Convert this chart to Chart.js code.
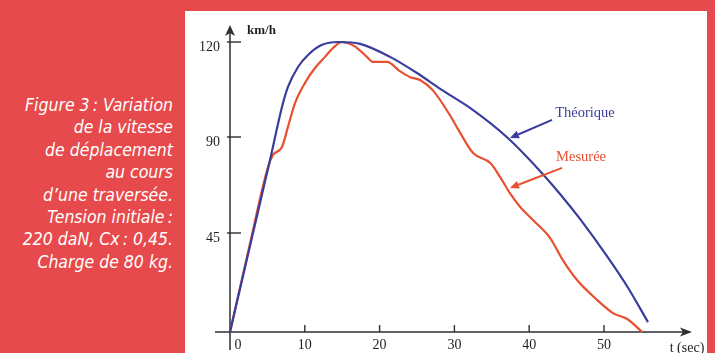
<!DOCTYPE html>
<html>
<head>
<meta charset="utf-8">
<script src="https://cdn.jsdelivr.net/npm/chart.js@4.4.1/dist/chart.umd.min.js"></script>
<style>
  html, body { margin:0; padding:0; }
  body { width:715px; height:353px; overflow:hidden; position:relative; background:#e64a4c; }
  #cap { position:absolute; right:542px; top:94px; width:180px; text-align:right; color:#fff;
         font-family:"Liberation Sans Narrow","DejaVu Sans Condensed","Roboto",sans-serif; font-style:italic;
         font-size:17.5px; line-height:22.4px; white-space:nowrap; }
  #panel { position:absolute; left:185px; top:11px; width:522px; height:342px; background:#fff; }
  canvas { display:block; }
</style>
</head>
<body>
<div id="cap">Figure 3&#8239;: Variation<br>de la vitesse<br>de déplacement<br>au cours<br>d’une traversée.<br>Tension initiale&#8239;:<br>220 daN, Cx&#8239;: 0,45.<br>Charge de 80 kg.</div>
<div id="panel"><canvas id="c" width="522" height="342"></canvas></div>
<script>
// ---- data (t in seconds, speed in km/h) ----
const theoTime  = [0, 2.67, 5.35, 6.95, 7.75, 9.09, 10.43, 12.3, 14.5, 17.4, 21.4, 25.0, 28.1, 32.5, 37.0, 41.44, 44.12, 46.79, 50.4, 53.07, 55.88];
const theoSpeed = [0, 39.1, 79.2, 99.5, 105.8, 112.1, 115.9, 119.1, 120, 119.4, 115.3, 110.2, 105.2, 98.5, 90, 74.1, 63.3, 51.6, 34.5, 20.9, 4.5];
const measTime  = [0, 2.54, 5.08, 5.75, 6.95, 7.75, 8.69, 10.03, 11.36, 12.7, 13.77, 14.97, 16.3, 17.0, 18.3, 19.1, 21.0, 22.7, 24.1, 25.4, 27.1, 29.4, 30.7, 32.5, 34.8, 36.1, 37.4, 38.8, 40.5, 42.8, 44.5, 46.4, 49.1, 51.2, 53.1, 55.1];
const measSpeed = [0, 38.2, 75.9, 81.6, 85.3, 93.2, 100.7, 107.1, 111.8, 115.3, 118.1, 120, 119.1, 118.1, 115.3, 113.7, 113.7, 110.8, 108.9, 108, 104.8, 96.9, 91.6, 82.5, 77.8, 71.3, 63.8, 57.2, 51.1, 42.7, 32.7, 23.6, 14.5, 8.6, 5.9, 0];
const xTicks = [0, 10, 20, 30, 40, 50];
const yTicks = [45, 90, 120];
const seriesNames = ['Théorique', 'Mesurée'];

// ---- y scale whose labelled ticks are evenly spaced as in the original figure ----
class PiecewiseScale extends Chart.LinearScale {
  _frac(v) {
    const b = this.options.breaks;
    if (v <= b[0][0]) return b[0][1];
    for (let i = 1; i < b.length; i++) {
      if (v <= b[i][0]) {
        const [v0, f0] = b[i-1], [v1, f1] = b[i];
        return f0 + (v - v0) / (v1 - v0) * (f1 - f0);
      }
    }
    const [v0, f0] = b[b.length-2], [v1, f1] = b[b.length-1];
    return f0 + (v - v0) / (v1 - v0) * (f1 - f0);
  }
  getPixelForValue(value) {
    if (value === null || value === undefined) return NaN;
    return this.getPixelForDecimal(this._frac(value));
  }
  getValueForPixel(pixel) {
    const d = this.getDecimalForPixel(pixel);
    const b = this.options.breaks;
    for (let i = 1; i < b.length; i++) {
      if (d <= b[i][1]) {
        const [v0, f0] = b[i-1], [v1, f1] = b[i];
        return v0 + (d - f0) / (f1 - f0) * (v1 - v0);
      }
    }
    return b[b.length-1][0];
  }
}
PiecewiseScale.id = 'piecewise';
PiecewiseScale.defaults = Chart.LinearScale.defaults;
Chart.register(PiecewiseScale);

const toPts = (ts, vs) => ts.map((t, i) => ({x: t, y: vs[i]}));

const BLUE = '#3b3d9c', RED = '#e8502f', AXIS = '#2e2e2e';

const axesPlugin = {
  id: 'axesPlugin',
  beforeDatasetsDraw(chart) {
    const ctx = chart.ctx, xs = chart.scales.x, ys = chart.scales.y;
    const x0 = xs.getPixelForValue(0), y0 = ys.getPixelForValue(0);
    ctx.save();
    ctx.strokeStyle = AXIS; ctx.fillStyle = AXIS; ctx.lineWidth = 1.5;
    // y axis
    ctx.beginPath(); ctx.moveTo(x0, 20); ctx.lineTo(x0, 339); ctx.stroke();
    ctx.beginPath(); ctx.moveTo(x0, 14); ctx.lineTo(x0 + 5, 25); ctx.lineTo(x0, 22); ctx.lineTo(x0 - 5, 25); ctx.closePath(); ctx.fill();
    // x axis
    ctx.beginPath(); ctx.moveTo(30, y0); ctx.lineTo(500, y0); ctx.stroke();
    ctx.beginPath(); ctx.moveTo(507, y0); ctx.lineTo(495, y0 - 4.5); ctx.lineTo(498, y0); ctx.lineTo(495, y0 + 4.5); ctx.closePath(); ctx.fill();
    // ticks
    ctx.lineWidth = 1.4;
    xTicks.forEach(t => { if (t === 0) return; const px = xs.getPixelForValue(t);
      ctx.beginPath(); ctx.moveTo(px, y0 - 7); ctx.lineTo(px, y0); ctx.stroke(); });
    yTicks.forEach(v => { const py = ys.getPixelForValue(v);
      ctx.beginPath(); ctx.moveTo(x0 - 3, py); ctx.lineTo(x0 + 11, py); ctx.stroke(); });
    // labels
    ctx.fillStyle = '#1e1e1e';
    ctx.font = '14px "Liberation Serif", "DejaVu Serif", serif';
    ctx.textBaseline = 'middle';
    ctx.textAlign = 'right';
    yTicks.forEach(v => ctx.fillText(String(v), 35, ys.getPixelForValue(v) + 5));
    ctx.textAlign = 'center';
    xTicks.forEach(t => { const px = t === 0 ? x0 + 8 : xs.getPixelForValue(t);
      ctx.fillText(String(t), px, y0 + 13); });
    ctx.fillText('t (sec)', 502, 337);
    ctx.textAlign = 'left';
    ctx.font = 'bold 13px "Liberation Serif", "DejaVu Serif", serif';
    ctx.fillText('km/h', 62, 20);
    ctx.restore();
  },
  afterDatasetsDraw(chart) {
    const ctx = chart.ctx, xs = chart.scales.x, ys = chart.scales.y;
    const P = (t, v) => [xs.getPixelForValue(t), ys.getPixelForValue(v)];
    const arrow = (a, b, col) => {
      ctx.strokeStyle = col; ctx.fillStyle = col; ctx.lineWidth = 2;
      const ang = Math.atan2(b[1] - a[1], b[0] - a[0]);
      const L = 9, W = 4;
      const bx = b[0] - L * Math.cos(ang), by = b[1] - L * Math.sin(ang);
      ctx.beginPath(); ctx.moveTo(a[0], a[1]); ctx.lineTo(bx, by); ctx.stroke();
      ctx.beginPath(); ctx.moveTo(b[0], b[1]);
      ctx.lineTo(bx + W * Math.sin(ang), by - W * Math.cos(ang));
      ctx.lineTo(bx - W * Math.sin(ang), by + W * Math.cos(ang));
      ctx.closePath(); ctx.fill();
    };
    ctx.save();
    ctx.font = '14.5px "Liberation Serif", "DejaVu Serif", serif';
    ctx.textAlign = 'center'; ctx.textBaseline = 'middle';
    ctx.fillStyle = BLUE; let p = P(47.46, 97.6); ctx.fillText(seriesNames[0], p[0], p[1]);
    ctx.fillStyle = RED;  p = P(46.93, 80.6); ctx.fillText(seriesNames[1], p[0], p[1]);
    arrow(P(43.05, 95.4), P(37.43, 89.5), BLUE);
    arrow(P(44.39, 75.5), P(37.43, 66.1), RED);
    ctx.restore();
  }
};

new Chart(document.getElementById('c'), {
  type: 'line',
  data: {
    datasets: [
      { label: seriesNames[0], data: toPts(theoTime, theoSpeed), borderColor: BLUE, borderWidth: 2.2,
        pointRadius: 0, fill: false, cubicInterpolationMode: 'monotone', clip: false },
      { label: seriesNames[1], data: toPts(measTime, measSpeed), borderColor: RED, borderWidth: 2.2,
        pointRadius: 0, fill: false, cubicInterpolationMode: 'monotone', clip: false }
    ]
  },
  options: {
    responsive: false,
    devicePixelRatio: 1,
    animation: false,
    events: [],
    layout: { padding: { left: 45, right: 28.2, top: 31, bottom: 21 } },
    plugins: { legend: { display: false }, tooltip: { enabled: false } },
    scales: {
      x: { type: 'linear', min: 0, max: 60, display: false },
      y: { type: 'piecewise', min: 0, max: 120, display: false,
           breaks: [[0, 0], [45, 0.3414], [90, 0.6724], [120, 1]] }
    }
  },
  plugins: [axesPlugin]
});
</script>
</body>
</html>
